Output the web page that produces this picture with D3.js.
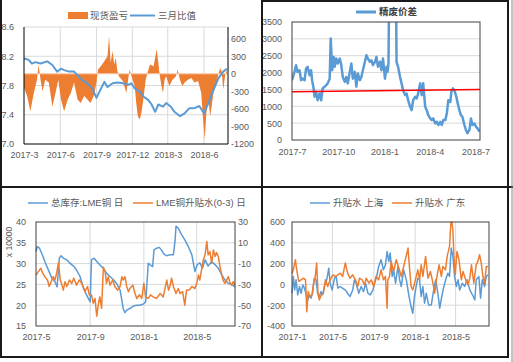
<!DOCTYPE html>
<html lang="zh">
<head>
  <meta charset="UTF-8">
  <title>铜 价差</title>
  <style>
    body { margin: 0; background: #fff; }
    svg { font-family: "Liberation Sans", "Noto Sans CJK SC", sans-serif; }
  </style>
</head>
<body>

  <svg id="svg" width="513" height="362"></svg>

  <script src="https://cdn.jsdelivr.net/npm/d3@7"></script>
  <script>
    // ---- panel 1: 现货盈亏 / 三月比值 ----
    const ratioDates = ['2017-03-01','2017-03-13','2017-03-21','2017-03-30','2017-04-12','2017-04-29','2017-05-12','2017-05-24','2017-06-03','2017-06-11',
      '2017-06-24','2017-07-06','2017-07-15','2017-07-27','2017-08-09','2017-08-21','2017-09-01','2017-09-09','2017-09-21','2017-09-29',
      '2017-10-12','2017-10-24','2017-11-07','2017-11-20','2017-11-29','2017-12-07','2017-12-20','2017-12-29','2018-01-11','2018-01-19',
      '2018-01-28','2018-02-05','2018-02-17','2018-02-25','2018-03-09','2018-03-18','2018-04-01','2018-04-13','2018-04-25','2018-05-08',
      '2018-05-20','2018-06-01','2018-06-12','2018-06-25','2018-07-08','2018-07-20','2018-07-29'];
    const ratioVals = [8.17,8.15,8.10,8.12,8.10,8.13,8.08,7.99,8.03,8.01,
      7.99,7.99,7.94,7.87,7.83,7.76,7.63,7.72,7.85,7.78,
      7.83,7.84,7.83,7.81,7.83,7.76,7.72,7.65,7.60,7.54,
      7.44,7.54,7.51,7.56,7.51,7.44,7.38,7.42,7.49,7.49,
      7.52,7.42,7.56,7.74,7.90,7.99,8.03];

    const pnlDates = ['2017-03-01','2017-03-09','2017-03-17','2017-03-26','2017-04-03','2017-04-07','2017-04-12','2017-04-17','2017-04-24','2017-05-03',
      '2017-05-12','2017-05-20','2017-05-27','2017-06-03','2017-06-11','2017-06-20','2017-06-28','2017-07-06','2017-07-15','2017-07-23',
      '2017-08-01','2017-08-09','2017-08-17','2017-08-26','2017-09-01','2017-09-05','2017-09-12','2017-09-21','2017-09-29','2017-10-03',
      '2017-10-07','2017-10-12','2017-10-16','2017-10-20','2017-10-24','2017-10-28','2017-11-07','2017-11-16','2017-11-20','2017-11-24',
      '2017-11-29','2017-12-07','2017-12-11','2017-12-15','2017-12-20','2017-12-24','2017-12-29','2018-01-04','2018-01-11','2018-01-15',
      '2018-01-24','2018-02-01','2018-02-05','2018-02-09','2018-02-13','2018-02-17','2018-02-21','2018-02-25','2018-03-05','2018-03-13',
      '2018-03-22','2018-03-26','2018-04-01','2018-04-07','2018-04-13','2018-04-21','2018-04-30','2018-05-08','2018-05-17','2018-05-25',
      '2018-05-29','2018-06-03','2018-06-07','2018-06-12','2018-06-17','2018-06-25','2018-07-01','2018-07-08','2018-07-12','2018-07-16',
      '2018-07-20','2018-07-25','2018-07-29'];
    const pnlVals = [-240,-380,-640,-330,-100,160,-100,-300,-100,-150,
      -560,-330,-100,-440,-640,-440,-330,-150,-440,-500,
      -380,-440,-500,-360,-150,75,130,215,300,645,
      190,390,160,275,50,-40,-125,-330,-125,75,
      -40,-210,-500,-725,-780,-670,-440,-100,75,160,
      130,420,190,-40,-210,-325,-100,-40,-210,-100,
      -40,75,-100,-210,-150,-100,-70,-150,-125,-325,
      -725,-1125,-670,-440,-725,-330,-210,0,100,40,
      -270,-10,75];

    const p1XTicks = ['2017-03-01','2017-06-01','2017-09-01','2017-12-01','2018-03-01','2018-06-01'];
    const p1LeftTicks = [7.0, 7.4, 7.8, 8.2, 8.6];
    const p1RightTicks = [-1200, -900, -600, -300, 0, 300, 600];

    // ---- panel 2: 精废价差 ----
    const spreadDates = ['2017-07-01','2017-07-06','2017-07-09','2017-07-12','2017-07-16','2017-07-19','2017-07-22','2017-07-26','2017-07-29','2017-08-01',
      '2017-08-05','2017-08-08','2017-08-10','2017-08-13','2017-08-15','2017-08-18','2017-08-21','2017-08-25','2017-08-28','2017-08-31',
      '2017-09-04','2017-09-07','2017-09-10','2017-09-14','2017-09-16','2017-09-19','2017-09-22','2017-09-24','2017-09-27','2017-09-30',
      '2017-10-04','2017-10-07','2017-10-10','2017-10-14','2017-10-17','2017-10-20','2017-10-27','2017-10-30','2017-11-03','2017-11-06',
      '2017-11-09','2017-11-13','2017-11-16','2017-11-19','2017-11-23','2017-11-26','2017-11-29','2017-12-03','2017-12-06','2017-12-09',
      '2017-12-13','2017-12-16','2017-12-19','2017-12-23','2017-12-26','2017-12-29','2018-01-02','2018-01-05','2018-01-07','2018-01-09',
      '2018-01-11','2018-01-17','2018-01-23','2018-01-25','2018-01-28','2018-02-01','2018-02-04','2018-02-07','2018-02-11','2018-02-14',
      '2018-02-17','2018-02-21','2018-02-24','2018-02-27','2018-03-03','2018-03-06','2018-03-09','2018-03-13','2018-03-16','2018-03-19',
      '2018-03-23','2018-03-26','2018-03-29','2018-04-02','2018-04-05','2018-04-08','2018-04-12','2018-04-15','2018-04-18','2018-04-22',
      '2018-04-25','2018-04-28','2018-05-02','2018-05-05','2018-05-08','2018-05-12','2018-05-14','2018-05-17','2018-05-20','2018-05-24',
      '2018-05-26','2018-05-30','2018-06-02','2018-06-05','2018-06-09','2018-06-12','2018-06-15','2018-06-19','2018-06-22','2018-06-25',
      '2018-06-29','2018-07-02','2018-07-05','2018-07-09'];
    const spreadVals = [1775,2020,2220,2020,2070,1775,1820,1775,2120,2170,
      1920,2070,1775,1530,1280,1430,1180,1380,1180,1530,
      1580,1630,1680,1820,3010,2070,2465,2170,2415,2270,
      2415,2220,1870,1725,1870,1680,2270,1820,2020,1580,
      1970,1775,1870,2070,2320,2515,2415,2320,2365,2220,
      2320,2465,2170,2320,2070,2415,1820,2170,2020,2270,
      6000,6500,6000,2320,2170,1870,1680,1480,1330,1380,
      1180,985,885,1180,1280,1230,1380,1680,1330,1680,
      985,885,740,640,590,640,490,540,445,540,
      445,590,590,790,1180,1130,1430,1530,1480,1280,
      1130,885,740,690,445,300,200,300,640,445,
      490,395,345,250];
    const trendDates = ['2017-07-01', '2018-07-10'];
    const trendVals = [1430, 1500];

    const p2XTicks = ['2017-07-01','2017-10-01','2018-01-01','2018-04-01','2018-07-01'];
    const p2YTicks = [0, 500, 1000, 1500, 2000, 2500, 3000, 3500];

    // ---- panel 3: 总库存 / 升贴水(0-3) ----
    const stockDates = ['2017-05-01','2017-05-04','2017-05-09','2017-05-14','2017-05-21','2017-05-29','2017-06-06','2017-06-13','2017-06-18','2017-06-23',
      '2017-06-27','2017-07-02','2017-07-10','2017-07-17','2017-07-25','2017-08-01','2017-08-09','2017-08-16','2017-08-24','2017-09-01',
      '2017-09-04','2017-09-10','2017-09-16','2017-09-23','2017-10-01','2017-10-08','2017-10-16','2017-10-24','2017-10-31','2017-11-08',
      '2017-11-12','2017-11-15','2017-11-19','2017-11-23','2017-11-30','2017-12-08','2017-12-16','2017-12-23','2017-12-31','2018-01-05',
      '2018-01-07','2018-01-11','2018-01-15','2018-01-21','2018-01-24','2018-01-30','2018-02-05','2018-02-10','2018-02-14','2018-02-18',
      '2018-02-22','2018-03-01','2018-03-09','2018-03-13','2018-03-15','2018-03-20','2018-03-28','2018-04-04','2018-04-12','2018-04-20',
      '2018-04-27','2018-05-02','2018-05-08','2018-05-14','2018-05-20','2018-05-27','2018-06-04','2018-06-12','2018-06-19','2018-06-27',
      '2018-07-04','2018-07-12','2018-07-19','2018-07-27'];
    const stockVals = [32.9,34.1,33.7,32.5,30.5,28.5,26.5,25.7,24.4,31.3,
      31.9,31.3,30.9,30.1,29.4,28.5,26.9,24.4,22.4,20.8,
      30.9,31.3,30.5,29.7,28.9,27.7,26.9,26.1,25.2,23.6,
      21.2,19.2,18.2,18.8,19.2,19.8,20.0,20.0,20.3,20.8,
      23.6,30.1,29.7,29.3,33.3,33.7,33.9,33.3,32.5,32.1,
      31.9,32.1,32.1,35.7,39.0,38.5,36.9,35.7,34.1,32.1,
      28.1,29.7,30.2,28.9,30.9,29.4,30.5,29.7,28.9,27.3,
      26.1,25.2,25.0,24.4];

    const lmeDates = ['2017-05-01','2017-05-06','2017-05-12','2017-05-16','2017-05-21','2017-05-27','2017-05-31','2017-06-06','2017-06-09','2017-06-13',
      '2017-06-17','2017-06-21','2017-06-25','2017-06-28','2017-07-02','2017-07-06','2017-07-10','2017-07-16','2017-07-21','2017-07-26',
      '2017-08-01','2017-08-07','2017-08-13','2017-08-20','2017-08-26','2017-08-30','2017-09-04','2017-09-08','2017-09-12','2017-09-16',
      '2017-09-20','2017-09-23','2017-09-27','2017-10-01','2017-10-05','2017-10-08','2017-10-12','2017-10-16','2017-10-22','2017-10-27',
      '2017-11-02','2017-11-08','2017-11-12','2017-11-15','2017-11-19','2017-11-23','2017-11-27','2017-11-30','2017-12-07','2017-12-12',
      '2017-12-16','2017-12-22','2017-12-27','2018-01-01','2018-01-05','2018-01-11','2018-01-16','2018-01-22','2018-01-30','2018-02-07',
      '2018-02-14','2018-02-22','2018-02-26','2018-03-01','2018-03-05','2018-03-09','2018-03-15','2018-03-20','2018-03-24','2018-03-30',
      '2018-04-04','2018-04-08','2018-04-14','2018-04-20','2018-04-27','2018-05-01','2018-05-05','2018-05-08','2018-05-12','2018-05-16',
      '2018-05-20','2018-05-24','2018-05-27','2018-05-31','2018-06-04','2018-06-08','2018-06-12','2018-06-15','2018-06-19','2018-06-23',
      '2018-06-27','2018-06-30','2018-07-04','2018-07-08','2018-07-12','2018-07-16','2018-07-19','2018-07-23','2018-07-27'];
    const lmeVals = [-21,-18,-14.5,-19,-22.6,-25.8,-32,-25.8,-22.6,-25.8,
      -19,-9,-25.8,-29,-35.5,-27.4,-32,-25.8,-29,-24,
      -30.7,-25.8,-29,-37,-32,-40,-40,-48,-43.5,-60.6,
      -48,-42,-53,-13.5,-17.7,-29,-22.6,-30.7,-25.8,-32,
      -35.5,-32,-22.6,-25.8,-22.6,-32,-37,-34,-30.7,-38.7,
      -43.5,-40,-43.5,-29,-42,-43.5,-40,-42,-43.5,-38.7,
      -42,-25.8,-35.5,-32,-24,-32,-38.7,-34,-38.7,-37,
      -50,-35.5,-35.5,-32,-34,-29,-21,-25.8,-16,-6.5,
      -1.6,11.3,-1.6,1.6,-9.7,3.2,-3.2,0.6,-3.2,-13,
      -21,-25.8,-29,-25.8,-22.6,-29,-30.7,-27.4,-30.7];

    const p3XTicks = ['2017-05-01','2017-09-01','2018-01-01','2018-05-01'];
    const p3LeftTicks = [15, 20, 25, 30, 35, 40];
    const p3RightTicks = [-70, -50, -30, -10, 10, 30];

    // ---- panel 4: 升贴水 上海 / 广东 ----
    const shDates = ['2017-01-01','2017-01-05','2017-01-09','2017-01-13','2017-01-18','2017-01-23','2017-01-28','2017-02-02','2017-02-07','2017-02-12',
      '2017-02-17','2017-02-21','2017-02-26','2017-03-03','2017-03-08','2017-03-13','2017-03-18','2017-03-23','2017-03-28','2017-04-02',
      '2017-04-07','2017-04-14','2017-04-20','2017-04-24','2017-04-30','2017-05-07','2017-05-12','2017-05-17','2017-05-24','2017-05-31',
      '2017-06-08','2017-06-15','2017-06-22','2017-06-30','2017-07-05','2017-07-10','2017-07-18','2017-07-25','2017-08-01','2017-08-07',
      '2017-08-14','2017-08-21','2017-08-29','2017-09-03','2017-09-09','2017-09-15','2017-09-22','2017-09-29','2017-10-05','2017-10-10',
      '2017-10-15','2017-10-19','2017-10-25','2017-10-29','2017-11-04','2017-11-11','2017-11-16','2017-11-21','2017-11-28','2017-12-06',
      '2017-12-14','2017-12-20','2017-12-25','2017-12-30','2018-01-04','2018-01-09','2018-01-14','2018-01-19','2018-01-24','2018-01-29',
      '2018-02-03','2018-02-10','2018-02-18','2018-02-25','2018-03-03','2018-03-10','2018-03-15','2018-03-20','2018-03-26','2018-04-03',
      '2018-04-08','2018-04-13','2018-04-18','2018-04-23','2018-04-28','2018-05-03','2018-05-08','2018-05-13','2018-05-21','2018-05-28',
      '2018-06-04','2018-06-12','2018-06-20','2018-06-27','2018-07-01','2018-07-09','2018-07-14','2018-07-19','2018-07-26','2018-07-31',
      '2018-08-05'];
    const shVals = [-85,76,-53,44,-100,-20,-85,-5,-37,-100,
      -149,-100,-133,-85,60,44,-85,-117,-69,-100,
      -20,44,156,12,-53,60,76,-37,-20,-37,
      -53,-85,-117,-53,44,12,-85,-20,-69,12,
      -85,-100,-53,12,76,172,237,140,188,317,
      221,301,76,140,12,172,44,-20,140,44,
      -117,-213,-278,-117,-20,60,44,-117,-20,-181,
      -85,-197,-197,-53,44,-100,-229,-133,-37,60,
      108,76,349,269,76,-20,44,-53,12,-20,
      44,-53,-100,-149,44,76,-133,44,-20,76,
      92];

    const gdDates = ['2017-01-01','2017-01-05','2017-01-11','2017-01-15','2017-01-21','2017-01-28','2017-02-04','2017-02-10','2017-02-14','2017-02-18',
      '2017-02-23','2017-03-01','2017-03-06','2017-03-11','2017-03-15','2017-03-19','2017-03-23','2017-03-29','2017-04-04','2017-04-10',
      '2017-04-17','2017-04-24','2017-05-02','2017-05-10','2017-05-17','2017-05-24','2017-05-31','2017-06-08','2017-06-15','2017-06-22',
      '2017-06-30','2017-07-08','2017-07-15','2017-07-20','2017-07-28','2017-08-04','2017-08-09','2017-08-17','2017-08-24','2017-08-31',
      '2017-09-07','2017-09-15','2017-09-22','2017-09-29','2017-10-05','2017-10-10','2017-10-12','2017-10-17','2017-10-22','2017-10-29',
      '2017-11-06','2017-11-14','2017-11-21','2017-11-28','2017-12-04','2017-12-11','2017-12-15','2017-12-20','2017-12-25','2018-01-02',
      '2018-01-09','2018-01-14','2018-01-19','2018-01-24','2018-02-01','2018-02-08','2018-02-15','2018-02-21','2018-02-28','2018-03-05',
      '2018-03-13','2018-03-20','2018-03-24','2018-04-01','2018-04-06','2018-04-13','2018-04-17','2018-04-20','2018-04-23','2018-04-26',
      '2018-04-30','2018-05-05','2018-05-11','2018-05-18','2018-05-23','2018-05-31','2018-06-07','2018-06-12','2018-06-17','2018-06-24',
      '2018-07-01','2018-07-06','2018-07-11','2018-07-16','2018-07-21','2018-07-26','2018-07-31','2018-08-05'];
    const gdVals = [108,140,237,140,28,44,60,44,-262,-69,
      -117,-100,12,76,205,-85,-149,-100,-85,44,
      -20,44,92,76,92,108,76,205,108,60,
      92,44,-20,60,44,-5,60,12,44,-20,
      76,44,140,44,76,-229,44,76,221,124,
      237,156,76,172,253,349,172,-20,-53,44,
      140,44,188,76,269,60,124,44,-85,44,
      188,76,172,140,269,365,590,600,526,269,
      92,317,237,44,124,44,-5,60,188,12,
      188,221,285,205,76,12,172,172];

    const p4XTicks = ['2017-01-01','2017-05-01','2017-09-01','2018-01-01','2018-05-01'];
    const p4YTicks = [-400, -200, 0, 200, 400, 600];

    // ------------------------------------------------------------
    const parse = d3.timeParse('%Y-%m-%d');
    const fmtDate = d3.timeFormat('%Y-%-m');
    const plain = d => String(d);   // Excel style: hyphen minus, no thousands comma
    const BLUE = '#5b9bd5', ORANGE = '#ed7d31', TXT = '#595959', GRID = '#d9d9d9';
    const svg = d3.select('#svg');

    const pts = (dates, vals) => dates.map((d, i) => ({ d: parse(d), v: vals[i] }));

    function styleAxis(g) {
      g.select('.domain').remove();
      g.selectAll('.tick line').remove();
      g.selectAll('text').attr('fill', TXT).style('font-size', '9px');
    }

    function drawLine(g, data, x, y, color, w) {
      g.append('path').datum(data)
        .attr('fill', 'none').attr('stroke', color).attr('stroke-width', w)
        .attr('stroke-linejoin', 'round')
        .attr('d', d3.line().x(p => x(p.d)).y(p => y(p.v)));
    }

    function grid(g, box, x, xTicks, y, yTicks) {
      g.selectAll(null).data(yTicks).enter().append('line')
        .attr('x1', box.l).attr('x2', box.r)
        .attr('y1', d => y(d)).attr('y2', d => y(d))
        .attr('stroke', GRID).attr('stroke-width', 1);
      g.selectAll(null).data(xTicks).enter().append('line')
        .attr('x1', d => x(d)).attr('x2', d => x(d))
        .attr('y1', box.t).attr('y2', box.b)
        .attr('stroke', GRID).attr('stroke-width', 1);
    }

    function legendLine(x1, x2, y, color, w, label) {
      svg.append('line').attr('x1', x1).attr('x2', x2).attr('y1', y).attr('y2', y)
        .attr('stroke', color).attr('stroke-width', w);
      svg.append('text').attr('x', x2 + 3).attr('y', y).attr('dy', '0.35em')
        .attr('fill', TXT).style('font-size', '9.5px').text(label);
    }

    function xAxis(box, x, ticks, pad) {
      svg.append('g').attr('transform', `translate(0,${box.b})`)
        .call(d3.axisBottom(x).tickValues(ticks.map(parse)).tickFormat(fmtDate).tickSize(0).tickPadding(pad))
        .call(styleAxis);
    }

    // ---------------- panel 1 ----------------
    const b1 = { l: 24, r: 228, t: 27, b: 144 };
    const x1 = d3.scaleTime().domain([parse('2017-03-01'), parse('2018-08-01')]).range([b1.l, b1.r]);
    const y1L = d3.scaleLinear().domain([7.0, 8.6]).range([b1.b, b1.t]);
    const y1R = d3.scaleLinear().domain([-1200, 800]).range([b1.b, b1.t]);
    const g1 = svg.append('g');
    grid(g1, b1, x1, p1XTicks.slice(1).map(parse), y1L, p1LeftTicks.slice(1));
    g1.append('path').datum(pts(pnlDates, pnlVals))
      .attr('fill', ORANGE)
      .attr('d', d3.area().x(p => x1(p.d)).y0(y1R(0)).y1(p => y1R(p.v)));
    g1.append('line').attr('x1', b1.l).attr('x2', b1.r).attr('y1', y1R(0)).attr('y2', y1R(0))
      .attr('stroke', '#f8cbad').attr('stroke-width', 1);
    drawLine(g1, pts(ratioDates, ratioVals), x1, y1L, BLUE, 2);
    g1.append('path').attr('d', `M${b1.l},${b1.t}V${b1.b}H${b1.r}V${b1.t}`)
      .attr('fill', 'none').attr('stroke', '#000').attr('stroke-width', 1);
    svg.append('g').attr('transform', `translate(${b1.l},0)`)
      .call(d3.axisLeft(y1L).tickValues(p1LeftTicks).tickFormat(d3.format('.1f')).tickSize(0).tickPadding(10))
      .call(styleAxis);
    svg.append('g').attr('transform', `translate(${b1.r},0)`)
      .call(d3.axisRight(y1R).tickValues(p1RightTicks).tickFormat(plain).tickSize(0).tickPadding(3))
      .call(styleAxis);
    xAxis(b1, x1, p1XTicks, 8);
    svg.append('rect').attr('x', 68).attr('y', 12).attr('width', 20).attr('height', 7).attr('fill', ORANGE);
    svg.append('text').attr('x', 90).attr('y', 15.5).attr('dy', '0.35em')
      .attr('fill', TXT).style('font-size', '9.5px').text('现货盈亏');
    legendLine(130, 155, 15.5, BLUE, 2, '三月比值');

    // ---------------- panel 2 ----------------
    const b2 = { l: 292, r: 480, t: 22, b: 140 };
    const x2 = d3.scaleTime().domain([parse('2017-07-01'), parse('2018-07-10')]).range([b2.l, b2.r]);
    const y2 = d3.scaleLinear().domain([0, 3500]).range([b2.b, b2.t]);
    const g2 = svg.append('g');
    grid(g2, b2, x2, [], y2, p2YTicks.slice(1, -1));
    svg.append('clipPath').attr('id', 'clip2').append('rect')
      .attr('x', b2.l).attr('y', b2.t).attr('width', b2.r - b2.l).attr('height', b2.b - b2.t);
    const g2c = g2.append('g').attr('clip-path', 'url(#clip2)');
    drawLine(g2c, pts(spreadDates, spreadVals), x2, y2, BLUE, 2.5);
    drawLine(g2c, pts(trendDates, trendVals), x2, y2, '#ff0000', 1.5);
    g2.append('rect').attr('x', b2.l).attr('y', b2.t).attr('width', b2.r - b2.l).attr('height', b2.b - b2.t)
      .attr('fill', 'none').attr('stroke', '#404040').attr('stroke-width', 1);
    svg.append('g').attr('transform', `translate(${b2.l},0)`)
      .call(d3.axisLeft(y2).tickValues(p2YTicks).tickFormat(plain).tickSize(0).tickPadding(10))
      .call(styleAxis);
    xAxis(b2, x2, p2XTicks, 9);
    svg.append('line').attr('x1', 356).attr('x2', 376).attr('y1', 12).attr('y2', 12)
      .attr('stroke', BLUE).attr('stroke-width', 3);
    svg.append('text').attr('x', 379).attr('y', 12).attr('dy', '0.35em')
      .attr('fill', '#404040').style('font-size', '9.5px').style('font-weight', 'bold').text('精废价差');

    // ---------------- panel 3 ----------------
    const b3 = { l: 36, r: 235, t: 222, b: 326 };
    const x3 = d3.scaleTime().domain([parse('2017-05-01'), parse('2018-07-27')]).range([b3.l, b3.r]);
    const y3L = d3.scaleLinear().domain([15, 40]).range([b3.b, b3.t]);
    const y3R = d3.scaleLinear().domain([-70, 30]).range([b3.b, b3.t]);
    const g3 = svg.append('g');
    grid(g3, b3, x3, p3XTicks.slice(1).map(parse), y3L, p3LeftTicks.slice(1, -1));
    drawLine(g3, pts(stockDates, stockVals), x3, y3L, BLUE, 1.5);
    drawLine(g3, pts(lmeDates, lmeVals), x3, y3R, ORANGE, 1.5);
    g3.append('rect').attr('x', b3.l).attr('y', b3.t).attr('width', b3.r - b3.l).attr('height', b3.b - b3.t)
      .attr('fill', 'none').attr('stroke', '#404040').attr('stroke-width', 1);
    svg.append('g').attr('transform', `translate(${b3.l},0)`)
      .call(d3.axisLeft(y3L).tickValues(p3LeftTicks).tickFormat(plain).tickSize(0).tickPadding(10))
      .call(styleAxis);
    svg.append('g').attr('transform', `translate(${b3.r},0)`)
      .call(d3.axisRight(y3R).tickValues(p3RightTicks).tickFormat(plain).tickSize(0).tickPadding(3))
      .call(styleAxis);
    xAxis(b3, x3, p3XTicks, 8);
    svg.append('text').attr('transform', 'translate(9,242) rotate(-90)')
      .attr('text-anchor', 'middle').attr('dy', '0.35em')
      .attr('fill', TXT).style('font-size', '8.5px').text('x 10000');
    legendLine(28, 48, 203, BLUE, 1.5, '总库存:LME铜 日');
    legendLine(133, 153, 203, ORANGE, 1.5, 'LME铜升贴水(0-3) 日');

    // ---------------- panel 4 ----------------
    const b4 = { l: 292, r: 489, t: 222, b: 326 };
    const x4 = d3.scaleTime().domain([parse('2017-01-01'), parse('2018-08-08')]).range([b4.l, b4.r]);
    const y4 = d3.scaleLinear().domain([-400, 600]).range([b4.b, b4.t]);
    const g4 = svg.append('g');
    grid(g4, b4, x4, p4XTicks.slice(1).map(parse), y4, p4YTicks.slice(1, -1));
    drawLine(g4, pts(shDates, shVals), x4, y4, BLUE, 1.5);
    drawLine(g4, pts(gdDates, gdVals), x4, y4, ORANGE, 1.5);
    g4.append('rect').attr('x', b4.l).attr('y', b4.t).attr('width', b4.r - b4.l).attr('height', b4.b - b4.t)
      .attr('fill', 'none').attr('stroke', '#404040').attr('stroke-width', 1);
    svg.append('g').attr('transform', `translate(${b4.l},0)`)
      .call(d3.axisLeft(y4).tickValues(p4YTicks).tickFormat(plain).tickSize(0).tickPadding(7))
      .call(styleAxis);
    xAxis(b4, x4, p4XTicks, 8);
    legendLine(310, 330, 203, BLUE, 1.5, '升贴水 上海');
    legendLine(392, 412, 203, ORANGE, 1.5, '升贴水 广东');

    // ---------------- sheet borders ----------------
    const border = [
      [1, 0, 1, 357], [262, 0, 262, 357], [0, 187, 513, 187],
      [0, 357, 509, 357], [262, 1, 509, 1], [508, 0, 508, 357]
    ];
    svg.selectAll('.border').data(border).enter().append('line')
      .attr('x1', d => d[0]).attr('y1', d => d[1]).attr('x2', d => d[2]).attr('y2', d => d[3])
      .attr('stroke', '#1a1a1a').attr('stroke-width', 2);
    svg.append('line').attr('x1', 512).attr('x2', 512).attr('y1', 0).attr('y2', 362)
      .attr('stroke', '#888').attr('stroke-width', 1);
  </script>
</body>
</html>
